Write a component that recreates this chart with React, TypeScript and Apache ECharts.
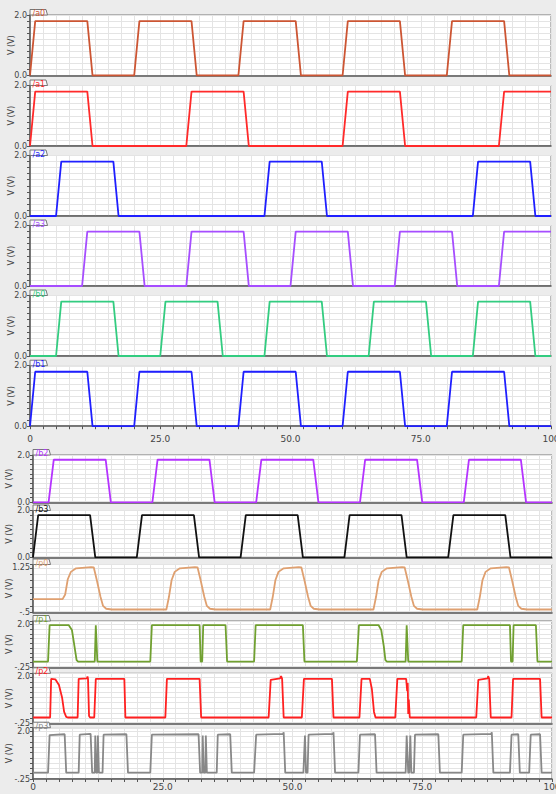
import React, { useEffect, useRef } from "react";
import * as echarts from "echarts";

// ---------- data (time 0..100, volts) ----------
const a0: number[][] = [[0,0],[1,1.8],[11,1.8],[12,0],[20,0],[21,1.8],[31,1.8],[32,0],[40,0],[41,1.8],[51,1.8],[52,0],[60,0],[61,1.8],[71,1.8],[72,0],[80,0],[81,1.8],[91,1.8],[92,0],[100,0]];
const a1: number[][] = [[0,0],[1,1.8],[11,1.8],[12,0],[30,0],[31,1.8],[41,1.8],[42,0],[60,0],[61,1.8],[71,1.8],[72,0],[90,0],[91,1.8],[100,1.8]];
const a2: number[][] = [[0,0],[5,0],[6,1.8],[16,1.8],[17,0],[45,0],[46,1.8],[56,1.8],[57,0],[85,0],[86,1.8],[96,1.8],[97,0],[100,0]];
const a3: number[][] = [[0,0],[10,0],[11,1.8],[21,1.8],[22,0],[30,0],[31,1.8],[41,1.8],[42,0],[50,0],[51,1.8],[61,1.8],[62,0],[70,0],[71,1.8],[81,1.8],[82,0],[90,0],[91,1.8],[100,1.8]];
const b0: number[][] = [[0,0],[5,0],[6,1.8],[16,1.8],[17,0],[25,0],[26,1.8],[36,1.8],[37,0],[45,0],[46,1.8],[56,1.8],[57,0],[65,0],[66,1.8],[76,1.8],[77,0],[85,0],[86,1.8],[96,1.8],[97,0],[100,0]];
const b1: number[][] = [[0,0],[1,1.8],[11,1.8],[12,0],[20,0],[21,1.8],[31,1.8],[32,0],[40,0],[41,1.8],[51,1.8],[52,0],[60,0],[61,1.8],[71,1.8],[72,0],[80,0],[81,1.8],[91,1.8],[92,0],[100,0]];
const b2: number[][] = [[0,0],[3,0],[4,1.8],[14,1.8],[15,0],[23,0],[24,1.8],[34,1.8],[35,0],[43,0],[44,1.8],[54,1.8],[55,0],[63,0],[64,1.8],[74,1.8],[75,0],[83,0],[84,1.8],[94,1.8],[95,0],[100,0]];
const b3: number[][] = [[0,0],[1,1.8],[11,1.8],[12,0],[20,0],[21,1.8],[31,1.8],[32,0],[40,0],[41,1.8],[51,1.8],[52,0],[60,0],[61,1.8],[71,1.8],[72,0],[80,0],[81,1.8],[91,1.8],[92,0],[100,0]];
const p0: number[][] = [[0,0.02],[5.7,0.02],[6.2,0.2],[6.7,0.8],[7.3,1.09],[8.3,1.23],[11.2,1.28],[11.7,1.27],[12.3,0.76],[13,0.11],[13.5,-0.25],[14.1,-0.36],[15.2,-0.39],[25.7,-0.39],[26.2,0.11],[26.7,0.76],[27.3,1.09],[28.3,1.23],[31.2,1.28],[31.7,1.27],[32.3,0.76],[33,0.11],[33.5,-0.25],[34.1,-0.36],[35.2,-0.39],[45.7,-0.39],[46.2,0.11],[46.7,0.76],[47.3,1.09],[48.3,1.23],[51.2,1.28],[51.7,1.27],[52.3,0.76],[53,0.11],[53.5,-0.25],[54.1,-0.36],[55.2,-0.39],[65.6,-0.39],[66.1,0.11],[66.6,0.76],[67.2,1.09],[68.2,1.23],[71.1,1.28],[71.6,1.27],[72.2,0.76],[72.9,0.11],[73.4,-0.25],[74,-0.36],[75.1,-0.39],[85.6,-0.39],[86.1,0.11],[86.6,0.76],[87.2,1.09],[88.2,1.23],[91.2,1.28],[91.7,1.27],[92.3,0.76],[93,0.11],[93.5,-0.25],[94.1,-0.36],[95.2,-0.39],[100,-0.39]];
const p1: number[][] = [[0,0.05],[2.9,0.05],[3.2,1.95],[6.9,1.95],[7.5,1.7],[8.0,0.83],[8.4,0.13],[8.7,0.05],[11.9,0.05],[12.1,1.95],[12.2,1.95],[12.4,0.05],[22.6,0.05],[22.9,1.95],[32.1,1.95],[32.3,0.05],[32.6,0.05],[32.8,1.95],[37.1,1.95],[37.4,0.05],[42.6,0.05],[42.9,1.95],[52,1.95],[52.3,0.05],[62.4,0.05],[62.8,1.95],[66.6,1.95],[67.1,1.7],[67.6,0.83],[67.9,0.13],[68.2,0.05],[71.8,0.05],[72,1.95],[72.1,1.95],[72.3,0.05],[82.6,0.05],[82.9,1.95],[91.9,1.95],[92.1,0.05],[92.4,0.05],[92.6,1.95],[96.9,1.95],[97.2,0.05],[100,0.05]];
const p2: number[][] = [[0,0.03],[3.3,0.03],[3.5,1.9],[4.3,1.88],[5.0,1.6],[5.6,1.0],[6.0,0.3],[6.4,0.06],[6.7,0.03],[8.6,0.03],[8.8,1.9],[10.4,1.92],[10.5,2.02],[10.6,1.9],[10.8,0.1],[11.0,0.03],[11.8,0.03],[12.1,1.9],[17.6,1.9],[17.8,0.03],[25.5,0.03],[25.8,1.9],[32.1,1.9],[32.4,0.03],[45.4,0.03],[45.8,1.85],[47.6,1.92],[47.8,2.03],[48.0,1.9],[48.3,0.03],[51.8,0.03],[52.2,1.9],[57.6,1.9],[57.9,0.03],[62.9,0.03],[63.3,1.9],[64.9,1.9],[65.3,1.4],[65.7,0.3],[66.0,0.03],[69.8,0.03],[70.2,1.9],[71.9,1.9],[72.1,1.3],[72.2,1.7],[72.3,0.2],[72.4,0.9],[72.6,0.03],[85.4,0.03],[85.8,1.85],[87.6,1.92],[87.7,2.03],[87.9,1.9],[88.2,0.03],[92.2,0.03],[92.5,1.9],[97.7,1.9],[98.0,0.03],[100,0.03]];
const p3: number[][] = [[0,0.05],[2.9,0.05],[3.2,1.82],[6.1,1.86],[6.4,0.05],[8.8,0.05],[9.0,1.84],[11.1,1.88],[11.4,0.05],[11.9,0.05],[12.0,1.8],[12.2,0.05],[12.4,0.05],[12.5,1.8],[12.7,0.05],[13.4,0.05],[13.6,1.84],[18.0,1.86],[18.3,0.05],[22.6,0.05],[22.9,1.84],[31.9,1.86],[32.2,0.05],[32.6,0.05],[32.7,1.8],[32.9,0.05],[33.2,0.05],[33.3,1.8],[33.5,0.05],[35.4,0.05],[35.6,1.84],[38.0,1.86],[38.3,0.05],[42.6,0.05],[43.0,1.84],[48.2,1.88],[48.3,1.95],[48.6,0.05],[52.1,0.05],[52.4,1.8],[52.6,0.05],[52.9,0.05],[53.1,1.84],[57.8,1.88],[57.9,1.95],[58.2,0.05],[62.7,0.05],[63.0,1.84],[65.9,1.86],[66.2,0.05],[71.8,0.05],[72.0,1.8],[72.3,0.05],[72.5,0.05],[72.7,1.8],[72.9,0.05],[73.4,0.05],[73.6,1.84],[78.1,1.86],[78.4,0.05],[82.6,0.05],[82.9,1.84],[88.3,1.88],[88.4,1.95],[88.7,0.05],[91.9,0.05],[92.2,1.84],[93.5,1.86],[93.8,0.05],[95.6,0.05],[95.9,1.84],[97.7,1.86],[98.0,0.05],[100,0.05]];

const signalNames = ["/a0", "/a1", "/a2", "/a3", "/b0", "/b1", "/b2", "/b3", "/p0", "/p1", "/p2", "/p3"];
const signalData = [a0, a1, a2, a3, b0, b1, b2, b3, p0, p1, p2, p3];
const xTickLabels: Record<string, string> = { "0": "0", "25": "25.0", "50": "50.0", "75": "75.0", "100": "100" };

// ---------- styling / layout ----------
const colors = ["#cc5533", "#ff2a2a", "#1f1fff", "#a64dff", "#33cc80", "#1f1fff", "#b533ff", "#111111", "#dfa070", "#70a030", "#ff2020", "#888888"];
type Panel = { left: number; top: number; width: number; height: number; min: number; max: number; interval: number; lo: number; hi: number; loLabel: string; hiLabel: string; last: boolean; nameGap: number; xMargin: number };
const TOP_L = 30, TOP_W = 521, BOT_L = 33, BOT_W = 519;
const topTops = [15, 85.5, 155.5, 225.5, 295.5, 365.7];
const panels: Panel[] = [
  ...topTops.map((t, i) => ({ left: TOP_L, top: t, width: TOP_W, height: 60.5, min: 0, max: 2, interval: 0.2, lo: 0, hi: 2, loLabel: "0.0", hiLabel: "2.0", last: i === 5, nameGap: 15, xMargin: 8 })),
  { left: BOT_L, top: 455, width: BOT_W, height: 47.3, min: 0, max: 2, interval: 0.2, lo: 0, hi: 2, loLabel: "0.0", hiLabel: "2.0", last: false, nameGap: 20, xMargin: 3 },
  { left: BOT_L, top: 510.5, width: BOT_W, height: 46.8, min: 0, max: 2, interval: 0.2, lo: 0, hi: 2, loLabel: "0.0", hiLabel: "2.0", last: false, nameGap: 20, xMargin: 3 },
  { left: BOT_L, top: 564.5, width: BOT_W, height: 47.8, min: -0.5, max: 1.38, interval: 0.25, lo: -0.5, hi: 1.25, loLabel: "-.5", hiLabel: "1.25", last: false, nameGap: 20, xMargin: 3 },
  { left: BOT_L, top: 621, width: BOT_W, height: 46.3, min: -0.25, max: 2.17, interval: 0.25, lo: -0.25, hi: 2, loLabel: "-.25", hiLabel: "2.0", last: false, nameGap: 20, xMargin: 3 },
  { left: BOT_L, top: 673.3, width: BOT_W, height: 50, min: -0.25, max: 2.17, interval: 0.25, lo: -0.25, hi: 2, loLabel: "-.25", hiLabel: "2.0", last: false, nameGap: 20, xMargin: 3 },
  { left: BOT_L, top: 727.7, width: BOT_W, height: 51.3, min: -0.25, max: 2.17, interval: 0.25, lo: -0.25, hi: 2, loLabel: "-.25", hiLabel: "2.0", last: true, nameGap: 20, xMargin: 3 },
];

const FONT = "DejaVu Sans";

export default function App() {
  const ref = useRef<HTMLDivElement>(null);
  useEffect(() => {
    if (!ref.current) return;
    const chart = echarts.init(ref.current, undefined, { renderer: "svg" });
    const near = (a: number, b: number) => Math.abs(a - b) < 1e-6;
    const grid = panels.map((p) => ({
      left: p.left, top: p.top, width: p.width, height: p.height, containLabel: false, outerBoundsMode: "none",
      show: true, backgroundColor: "#ffffff", borderColor: "#777777", borderWidth: 1,
    }));
    const xAxis = panels.map((p, i) => ({
      type: "value", gridIndex: i, min: 0, max: 100, interval: 2.5,
      axisLine: { show: true, onZero: false, lineStyle: { color: "#555555", width: 1.5 } },
      axisTick: { show: p.last, length: 3, lineStyle: { color: "#555555" } },
      axisLabel: {
        show: p.last, margin: p.xMargin, fontSize: 9, fontFamily: FONT, color: "#444444", hideOverlap: false,
        formatter: (v: number) => { const k = String(Math.round(v * 100) / 100); return xTickLabels[k] ?? ""; },
      },
      splitLine: { show: true, lineStyle: { color: "#e4e4e4", width: 1 } },
    }));
    const yAxis = panels.map((p, i) => ({
      type: "value", gridIndex: i, min: p.min, max: p.max, interval: p.interval,
      name: "V (V)", nameLocation: "middle", nameGap: p.nameGap, nameRotate: 90, nameMoveOverlap: false,
      nameTextStyle: { fontSize: 8, fontFamily: FONT, color: "#444444" },
      axisLine: { show: true, onZero: false, lineStyle: { color: "#555555", width: 1.5 } },
      axisTick: { show: true, length: 3, lineStyle: { color: "#555555" } },
      axisLabel: {
        show: true, margin: 3, fontSize: 8, fontFamily: FONT, color: "#444444", showMinLabel: true, showMaxLabel: true, hideOverlap: false,
        formatter: (v: number) => (near(v, p.lo) ? p.loLabel : near(v, p.hi) ? p.hiLabel : ""),
      },
      splitLine: { show: true, lineStyle: { color: "#e4e4e4", width: 1 } },
    }));
    const series = signalData.map((d, i) => ({
      type: "line", name: signalNames[i], xAxisIndex: i, yAxisIndex: i, data: d,
      showSymbol: false, symbol: "none", lineStyle: { color: colors[i], width: 1.8 }, itemStyle: { color: colors[i] },
    }));
    const graphic: any[] = [];
    panels.forEach((p, i) => {
      graphic.push({
        type: "polygon", z: 100,
        shape: { points: [[p.left, p.top], [p.left, p.top - 5.5], [p.left + 16, p.top - 5.5], [p.left + 17.5, p.top]] },
        style: { fill: "#fbfbfb", stroke: "#777777", lineWidth: 1 },
      });
      graphic.push({
        type: "text", z: 101, x: p.left + 2.5, y: p.top - 5.5,
        style: { text: signalNames[i], fill: colors[i], fontSize: 8, fontFamily: FONT, textVerticalAlign: "top" },
      });
    });
    chart.setOption({ animation: false, backgroundColor: "#ececec", grid, xAxis, yAxis, series, graphic } as any);
    return () => chart.dispose();
  }, []);
  return <div ref={ref} style={{ position: "absolute", left: 0, top: 0, width: 556, height: 794 }} />;
}
